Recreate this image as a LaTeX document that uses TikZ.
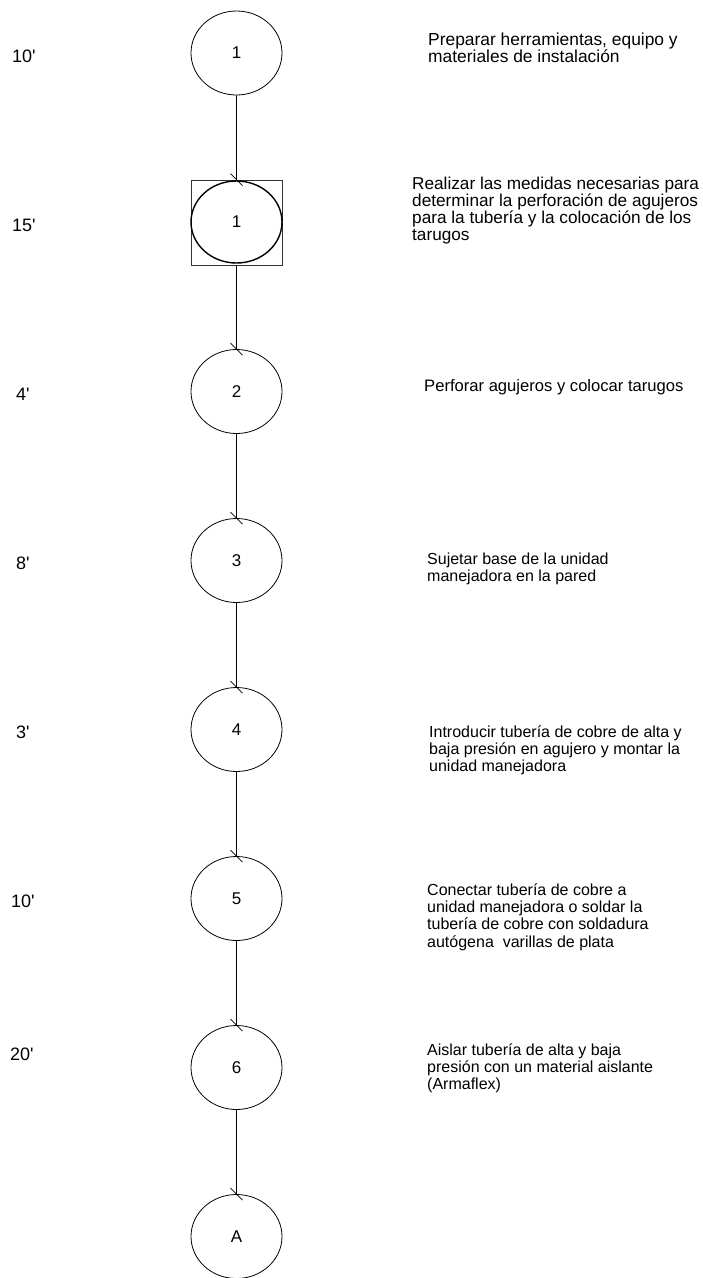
\documentclass[tikz,border=0pt]{standalone}
\usepackage{fontspec}
\setmainfont{Liberation Sans}[Ligatures=TeXOff]
\usetikzlibrary{shapes.geometric}
% left-aligned lines, baseline of the box at the first line
\newcommand\textlines[1]{\vtop{\lineskiplimit=-100pt\halign{##\hfil\cr#1\crcr}}}
\begin{document}
\begin{tikzpicture}[x=1pt,y=-1pt,
  opcircle/.style={ellipse,draw,line width=0.8pt,minimum width=91pt,minimum height=84pt,inner sep=0pt,font=\fontsize{17}{19}\selectfont},
  combined/.style={rectangle,draw=black!80,line width=0.8pt,minimum width=91pt,minimum height=85pt,inner sep=0pt},
  flowline/.style={line width=0.8pt},
  desc/.style={anchor=base west,inner sep=0pt,font=\fontsize{16}{17.4}\selectfont},
  tlabel/.style={anchor=base west,inner sep=0pt,font=\fontsize{18}{20}\selectfont}]
\useasboundingbox (0,0) rectangle (702,1278);

% operation symbols on the vertical flow line
\node[opcircle] (o1) at (236.5,53) {1};
\node[combined] (b1) at (236.5,222.5) {};
\node[opcircle,line width=1.4pt,minimum height=82pt] (c1) at (236.5,222) {1};
\node[opcircle] (o2) at (236.5,391.5) {2};
\node[opcircle] (o3) at (236.5,560.5) {3};
\node[opcircle] (o4) at (236.5,729.5) {4};
\node[opcircle] (o5) at (236.5,898.5) {5};
\node[opcircle] (o6) at (236.5,1067.5) {6};
\node[opcircle] (oA) at (236.5,1236.5) {A};

% connectors, each ending in a short slanted tick
\draw[flowline] (o1.south) -- (b1.north) ++(-6,-6) -- ++(12,12);
\draw[flowline] (b1.south) -- (o2.north) ++(-6,-6) -- ++(12,12);
\draw[flowline] (o2.south) -- (o3.north) ++(-6,-6) -- ++(12,12);
\draw[flowline] (o3.south) -- (o4.north) ++(-6,-6) -- ++(12,12);
\draw[flowline] (o4.south) -- (o5.north) ++(-6,-6) -- ++(12,12);
\draw[flowline] (o5.south) -- (o6.north) ++(-6,-6) -- ++(12,12);
\draw[flowline] (o6.south) -- (oA.north) ++(-6,-6) -- ++(12,12);

% times
\node[tlabel] (t1) at (12,62) {10'};
\node[tlabel] (t2) at (12,231) {15'};
\node[tlabel] (t3) at (16,400) {4'};
\node[tlabel] (t4) at (16,569) {8'};
\node[tlabel] (t5) at (16,738) {3'};
\node[tlabel] (t6) at (11,907) {10'};
\node[tlabel] (t7) at (10,1060) {20'};

% descriptions (anchored at the baseline of their first line)
\node[desc,font=\fontsize{17.4}{17.7}\selectfont] (d1) at (428,45) {\textlines{Preparar herramientas, equipo y\cr materiales de instalación}};
\node[desc,font=\fontsize{17.2}{17}\selectfont] (d2) at (412,189) {\textlines{Realizar las medidas necesarias para\cr determinar la perforación de agujeros\cr para la tubería y la colocación de los\cr tarugos}};
\node[desc,font=\fontsize{16.6}{17.3}\selectfont] (d3) at (424,391) {Perforar agujeros y colocar tarugos};
\node[desc] (d4) at (427,564) {\textlines{Sujetar base de la unidad\cr manejadora en la pared}};
\node[desc] (d5) at (429,737) {\textlines{Introducir tubería de cobre de alta y\cr baja presión en agujero y montar la\cr unidad manejadora}};
\node[desc] (d6) at (427,895) {\textlines{Conectar tubería de cobre a\cr unidad manejadora o soldar la\cr tubería de cobre con soldadura\cr autógena\ \ varillas de plata}};
\node[desc] (d7) at (427,1055) {\textlines{Aislar tubería de alta y baja\cr presión con un material aislante\cr (Armaflex)}};
\end{tikzpicture}
\end{document}
